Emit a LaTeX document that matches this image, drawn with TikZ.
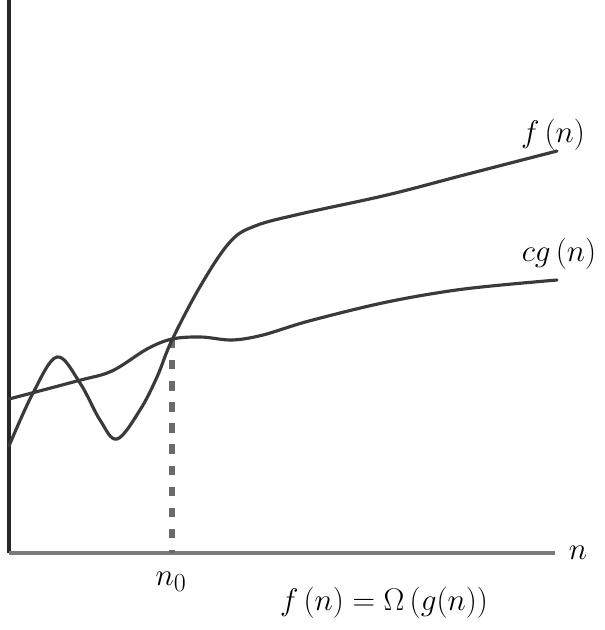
\documentclass[tikz,border=0pt]{standalone}
\usetikzlibrary{calc}
\definecolor{curvec}{HTML}{3A3A3A}
\definecolor{axisc}{HTML}{7A7A7A}
\definecolor{guidec}{HTML}{6A6A6A}
\tikzset{
  curve/.style={draw=curvec,line width=2.7pt,line cap=round},
  yaxis/.style={draw=black!85,line width=2.8pt},
  xaxis/.style={draw=axisc,line width=4.2pt},
  guide/.style={draw=guidec,line width=4.5pt,dash pattern=on 8pt off 10pt},
  lab/.style={inner sep=0pt,font=\fontsize{29}{32}\selectfont,scale=1.07}
}
\begin{document}
\begin{tikzpicture}[x=0.03cm,y=-0.03cm]
\useasboundingbox (0,0) rectangle (605,630);
\coordinate (origin) at (9,553);
\coordinate (ytop) at (9,0);
\coordinate (xend) at (555,553);
\coordinate (n0top) at (172,339);
\coordinate (n0bot) at (172,553);
\draw[yaxis] (origin) -- (ytop);
\draw[xaxis] (origin) -- (xend);
\draw[guide] (n0top) -- (n0bot);
% f(n)
\draw[curve] plot[smooth,tension=0.6] coordinates {
  (9,446) (33,393) (57,357) (80,383) (100,420) (117,439) (140,410) (157,377) (172,340)
  (201,285) (230,242) (255,226) (300,214) (387,195) (464,175) (557,151)};
% cg(n)
\draw[curve] plot[smooth,tension=0.55] coordinates {
  (9,399) (77,381) (112,371) (147,349) (172,339) (201,337) (232,340)
  (263,335) (309,321) (387,302) (464,289) (557,280)};
\node[lab] (fl) at (553,135) {$f\,(n)$};
\node[lab] (gl) at (559,254) {$cg\,(n)$};
\node[lab] (nl) at (578,553) {$n$};
\node[lab] (n0l) at (171,582) {$n_0$};
\node[lab] (eq) at (384,603) {$f\,(n) = \Omega\,(g(n))$};
\end{tikzpicture}
\end{document}
